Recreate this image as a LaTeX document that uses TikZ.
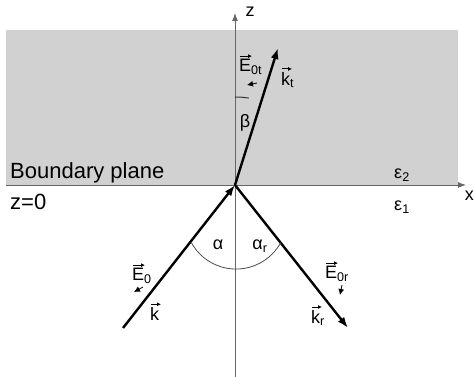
\documentclass[tikz,border=0pt]{standalone}
\usepackage{fontspec}
\setmainfont{Liberation Sans}
\usetikzlibrary{arrows.meta}
\begin{document}
\begin{tikzpicture}[x=1pt,y=-1pt,
  axis/.style={draw=black!60, line width=1pt},
  ray/.style={draw=black, line width=2.4pt, -{Latex[length=11pt,width=8pt]}},
  big/.style={font=\fontsize{22}{25}\selectfont, inner sep=0pt},
  lab/.style={font=\fontsize{18}{20}\selectfont, inner sep=0pt},
  vecar/.style={draw=black, line width=0.9pt, -{Latex[length=4pt,width=4pt]}},
  tiny/.style={draw=black, line width=0.8pt, -{Latex[length=6pt,width=6pt]}},
  thinarc/.style={draw=black!70, line width=0.8pt}]
\useasboundingbox (0,0) rectangle (474,377);
\fill[black!18] (6,30) rectangle (458,185);
% axes
\coordinate (O) at (235,185);
\coordinate (zb) at (235,377);
\coordinate (zt) at (235,13);
\coordinate (xl) at (6,185);
\coordinate (xr) at (466,185);
\draw[axis, -{Latex[length=8pt,width=6pt]}] (zb) -- (zt);
\draw[axis, -{Latex[length=8pt,width=6pt]}] (xl) -- (xr);
\node[lab] (zlab) at (250,12) {z};
\node[lab, anchor=east] (xlab) at (474,196) {x};
% rays
\coordinate (I) at (123,328);
\coordinate (R) at (348,328);
\coordinate (T) at (278,48);
\draw[ray] (I) -- (O);
\draw[ray] (O) -- (R);
\draw[ray] (O) -- (T);
% angle arcs
\draw[thinarc] (191,242) arc[start angle=208, end angle=331, radius=51pt];
\draw[black!80, line width=1pt] (235,97) arc[start angle=90, end angle=81, radius=88pt];
% texts
\node[big, anchor=west] (bp) at (10,173) {Boundary plane};
\node[big, anchor=west] (z0) at (10,202) {z=0};
\node[lab] (e2) at (402,175) {ε\textsubscript{2}};
\node[lab] (e1) at (402,207) {ε\textsubscript{1}};
\node[lab, anchor=west] (Et) at (239,67) {E\textsubscript{0t}};
\node[lab, anchor=west] (kt) at (281,80) {k\textsubscript{t}};
\node[lab] (beta) at (245,123) {β};
\node[lab] (al) at (218,245) {α};
\node[lab] (ar) at (260,246) {α\textsubscript{r}};
\node[lab, anchor=west] (E0) at (132,276) {E\textsubscript{0}};
\node[lab, anchor=west] (k0) at (150,314) {k};
\node[lab, anchor=west] (Er) at (325,274) {E\textsubscript{0r}};
\node[lab, anchor=west] (kr) at (311,318) {k\textsubscript{r}};
% vector arrows above letters
\foreach \n in {Et,E0,Er}{
  \draw[vecar] ([xshift=1pt,yshift=3pt]\n.north west) -- ++(12,0);
}
\foreach \n in {kt,k0,kr}{
  \draw[vecar] ([xshift=1pt,yshift=3pt]\n.north west) -- ++(10,0);
}
% small field arrows
\coordinate (a1) at (257,83); \coordinate (a2) at (247,85);
\draw[tiny] (a1) -- (a2);
\coordinate (b1) at (143,287); \coordinate (b2) at (134,292);
\draw[tiny] (b1) -- (b2);
\coordinate (c1) at (342,285); \coordinate (c2) at (340,295);
\draw[tiny] (c1) -- (c2);
\end{tikzpicture}
\end{document}
